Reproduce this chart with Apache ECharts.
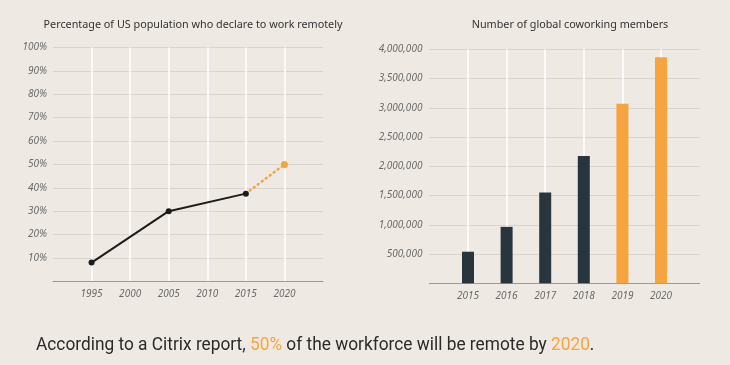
<!DOCTYPE html>
<html><head><meta charset="utf-8">
<script src="https://cdn.jsdelivr.net/npm/echarts@6/dist/echarts.min.js"></script>
<style>html,body{margin:0;padding:0;background:#EEEAE3;}#c{width:730px;height:365px;}</style>
</head><body><div id="c"></div>
<script>
// Left chart data
const remoteYearsActual = [1995, 2005, 2015];
const remoteShareActual = [8, 30, 37.5];
const remoteYearsProjected = [2015, 2020];
const remoteShareProjected = [37.5, 50];
const remoteXTicks = [1995, 2000, 2005, 2010, 2015, 2020];
// Right chart data
const coworkYears = [2015, 2016, 2017, 2018, 2019, 2020];
const coworkMembers = [540000, 965000, 1550000, 2175000, 3070000, 3865000];
const coworkProjectedFrom = 2019;

const DARK = '#28353C', ORANGE = '#F7A440', BLACK = '#1C1C1C';
const labelStyle = {color: '#6b6b6b', fontStyle: 'italic', fontFamily: 'Noto Sans', fontSize: 10};

const chart = echarts.init(document.getElementById('c'), null, {renderer: 'canvas'});
chart.setOption({
  backgroundColor: '#EEEAE3',
  animation: false,
  title: [
    {text: 'Percentage of US population who declare to work remotely', left: 188, top: 14, textAlign: 'center',
     textStyle: {fontSize: 10.8, fontWeight: 'normal', color: '#333', fontFamily: 'Noto Sans'}},
    {text: 'Number of global coworking members', left: 565, top: 14, textAlign: 'center',
     textStyle: {fontSize: 10.8, fontWeight: 'normal', color: '#333', fontFamily: 'Noto Sans'}}
  ],
  graphic: [{
    type: 'text', x: 36, y: 336, scaleX: 0.935,
    style: {
      text: 'According to a Citrix report, {o|50%} of the workforce will be remote by {o|2020}.',
      fontSize: 18.5, fontFamily: 'Roboto', fill: '#2a2a2a',
      rich: {o: {fill: ORANGE, fontSize: 18.5, fontFamily: 'Roboto'}}
    }
  }],
  grid: [
    {left: 53, right: 407, top: 47.5, bottom: 83.7},
    {left: 429.4, right: 30.4, top: 49.3, bottom: 81.7}
  ],
  xAxis: [
    {gridIndex: 0, type: 'value', min: 1990, max: 2025, interval: 5,
     axisLine: {show: true, lineStyle: {color: '#9a9a9a', width: 1}}, axisTick: {show: false},
     axisLabel: Object.assign({margin: 8, formatter: v => remoteXTicks.includes(v) ? String(v) : ''}, labelStyle),
     splitLine: {show: true, showMinLine: false, showMaxLine: false, lineStyle: {color: '#ffffff', width: 1.5}}},
    {gridIndex: 1, type: 'value', min: 2014, max: 2021, interval: 1,
     axisLine: {show: true, lineStyle: {color: '#9a9a9a', width: 1}}, axisTick: {show: false},
     axisLabel: Object.assign({margin: 8, formatter: v => coworkYears.includes(v) ? String(v) : ''}, labelStyle),
     splitLine: {show: true, showMinLine: false, showMaxLine: false, lineStyle: {color: '#ffffff', width: 1.5}}}
  ],
  yAxis: [
    {gridIndex: 0, type: 'value', min: 0, max: 100, interval: 10,
     axisLine: {show: false}, axisTick: {show: false},
     axisLabel: Object.assign({margin: 6, formatter: v => v === 0 ? '' : v + '%'}, labelStyle),
     splitLine: {show: true, showMinLine: false, lineStyle: {color: '#d9d5ce', width: 1}}},
    {gridIndex: 1, type: 'value', min: 0, max: 4000000, interval: 500000,
     axisLine: {show: false}, axisTick: {show: false},
     axisLabel: Object.assign({margin: 7, formatter: v => v === 0 ? '' : v.toLocaleString('en-US')}, labelStyle),
     splitLine: {show: true, showMinLine: false, lineStyle: {color: '#d9d5ce', width: 1}}}
  ],
  series: [
    {type: 'line', xAxisIndex: 0, yAxisIndex: 0, z: 2,
     data: remoteYearsProjected.map((y, i) => i === 0 ? {value: [y, remoteShareProjected[i]], symbol: 'none'} : [y, remoteShareProjected[i]]),
     symbol: 'circle', symbolSize: 7, showSymbol: true,
     itemStyle: {color: ORANGE}, lineStyle: {color: ORANGE, width: 2.5, type: [1, 4], cap: 'round'}},
    {type: 'line', xAxisIndex: 0, yAxisIndex: 0, z: 3,
     data: remoteYearsActual.map((y, i) => [y, remoteShareActual[i]]),
     symbol: 'circle', symbolSize: 6, itemStyle: {color: BLACK}, lineStyle: {color: BLACK, width: 2}},
    {type: 'bar', xAxisIndex: 1, yAxisIndex: 1, barWidth: 12,
     data: coworkYears.map((y, i) => ({value: [y, coworkMembers[i]], itemStyle: {color: y >= coworkProjectedFrom ? ORANGE : DARK}}))}
  ]
});
</script></body></html>
